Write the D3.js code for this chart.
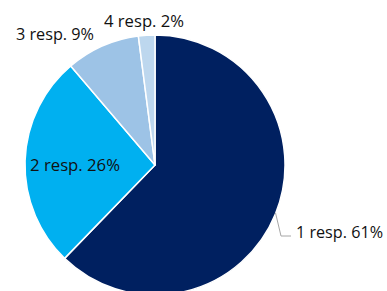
<!DOCTYPE html>
<html><head><meta charset="utf-8">
<script src="https://cdn.jsdelivr.net/npm/d3@7"></script>
<style>html,body{margin:0;padding:0;background:#fff;overflow:hidden}</style>
</head><body>
<svg id="c" width="387" height="291"></svg>
<script>
const categories = ["1 resp.", "2 resp.", "3 resp.", "4 resp."];
const values = [61, 26, 9, 2];
const colors = ["#002060", "#00B0F0", "#9DC3E6", "#BDD7EE"];

const svg = d3.select("#c");
const cx = 155, cy = 165, r = 130;
const g = svg.append("g").attr("transform", `translate(${cx},${cy})`);
const pie = d3.pie().sort(null).value(d => d)(values);
const arc = d3.arc().innerRadius(0).outerRadius(r);

g.selectAll("path").data(pie).enter().append("path")
  .attr("d", arc)
  .attr("fill", (d, i) => colors[i])
  .attr("stroke", "#fff").attr("stroke-width", 1.5).attr("stroke-linejoin", "round");

const font = "'Open Sans', sans-serif";
const fs = 16;
const labelPos = [
  {x: 296 - cx, y: 238 - cy},
  {x: 30 - cx, y: 171 - cy},
  {x: 16 - cx, y: 40 - cy},
  {x: 104 - cx, y: 27 - cy}
];
const labelW = [87, 90, 78, 80];
g.selectAll("text.lbl").data(pie).enter().append("text")
  .attr("class", "lbl")
  .attr("x", (d, i) => labelPos[i].x)
  .attr("y", (d, i) => labelPos[i].y)
  .attr("font-family", font).attr("font-size", fs)
  .attr("fill", "#111")
  .attr("textLength", (d, i) => labelW[i])
  .attr("lengthAdjust", "spacingAndGlyphs")
  .text((d, i) => `${categories[i]} ${values[i]}%`);

// leader line for the first slice
const edge = d3.arc().innerRadius(r).outerRadius(r).centroid(pie[0]);
g.append("polyline")
  .attr("points", [[edge[0], edge[1] - 1], [281 - cx, 236 - cy], [291 - cx, 236 - cy]].map(p => p.join(",")).join(" "))
  .attr("fill", "none").attr("stroke", "#a6a6a6").attr("stroke-width", 1);
</script>
</body></html>
